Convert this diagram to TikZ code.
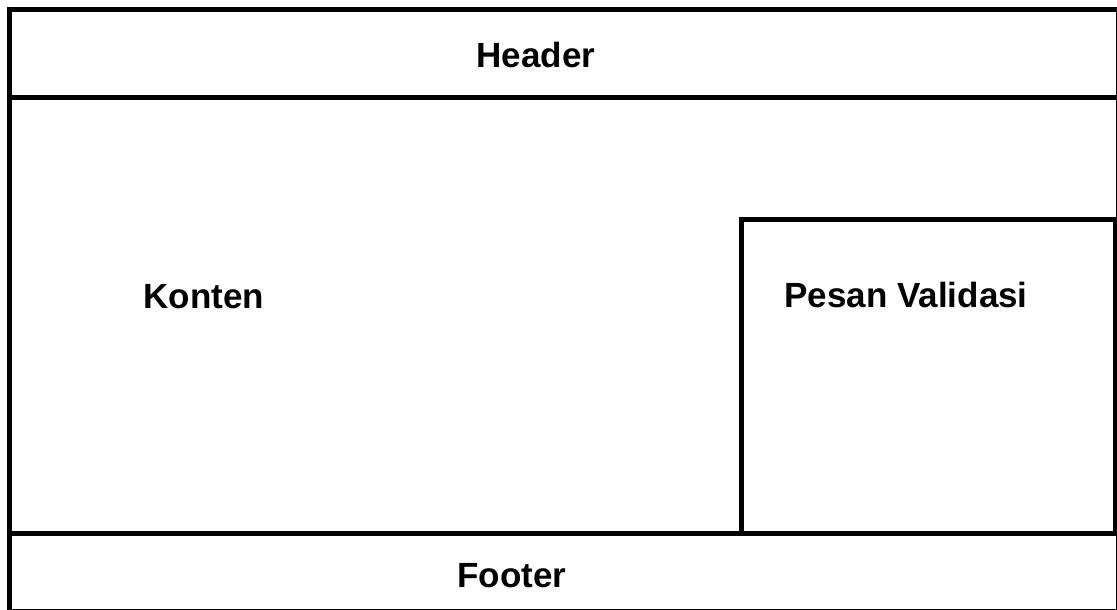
\documentclass[tikz,border=0pt]{standalone}
\usepackage{fontspec}
\setmainfont{Liberation Sans}
\usetikzlibrary{positioning}

\begin{document}
\begin{tikzpicture}[x=1pt,y=-1pt, line width=5pt,
	every node/.style={inner sep=0pt, font=\fontsize{35}{42}\selectfont\bfseries},
	frame/.style={draw=black, line join=miter}]

		\useasboundingbox (0,0) rectangle (1117,610);

		% kerangka halaman
		\draw[frame] (9.5,9.5) rectangle (1118.5,611.5);
		\draw[frame] (9.5,97.5) -- (1118.5,97.5);
		\draw[frame] (9.5,533.5) -- (1118.5,533.5);
		\draw[frame] (741.5,533.5) |- (1115.5,219) -- (1115.5,533.5);

		\node[anchor=base] (header) at (536,68) {Header};
		\node[anchor=base west] (konten) at (141,308) {Konten};
		\node[anchor=base west] (pesan) at (782,307) {Pesan Validasi};
		\node[anchor=base] (footer) at (512,587) {Footer};
\end{tikzpicture}
\end{document}
